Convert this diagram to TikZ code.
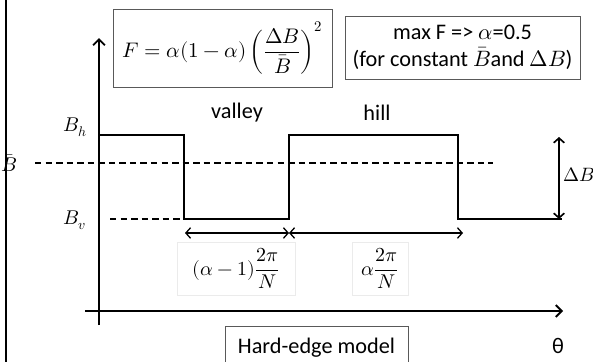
\documentclass[tikz,border=0pt]{standalone}
\usepackage{amsmath}
\usepackage{fontspec}
\usepackage{unicode-math}
\setmainfont{Carlito}
\setmathfont{Latin Modern Math}
\usetikzlibrary{arrows.meta, positioning}
\tikzset{
  axis/.style={-{Straight Barb[length=5pt,width=10pt,line width=1.6pt]}, line width=2pt},
  level/.style={line width=1.5pt},
  mean/.style={line width=1.5pt, dash pattern=on 5.5pt off 3.5pt},
  span/.style={{Straight Barb[length=4pt,width=9pt]}-{Straight Barb[length=4pt,width=9pt]}, line width=1.1pt},
  txtbox/.style={rectangle, draw=black!65, line width=0.8pt, inner sep=0pt, align=center},
  fracbox/.style={rectangle, draw=black!8, line width=0.6pt, inner sep=0pt},
  lbl/.style={font=\fontsize{19}{23}\selectfont},
  sym/.style={font=\fontsize{17}{20}\selectfont, inner sep=0pt},
}

\begin{document}
\begin{tikzpicture}[x=0.03cm, y=-0.03cm]
  \useasboundingbox (0,0) rectangle (593,361);
  \draw[line width=1.7pt] (6,-5) -- (6,366);

  % axes
  \coordinate (ax0) at (99,325);
  \coordinate (ay1) at (99,38);
  \coordinate (bx0) at (85,311);
  \coordinate (bx1) at (563,311);
  \draw[axis] (ax0) -- (ay1);
  \draw[axis] (bx0) -- (bx1);

  % hard-edge profile
  \coordinate (p0) at (99,135);
  \coordinate (p1) at (184,135);
  \coordinate (p2) at (184,219);
  \coordinate (p3) at (289,219);
  \coordinate (p4) at (289,135);
  \coordinate (p5) at (458,135);
  \coordinate (p6) at (458,219);
  \coordinate (p7) at (562,219);
  \draw[level] (p0) -- (p1) -- (p2) -- (p3) -- (p4) -- (p5) -- (p6) -- (p7);

  \coordinate (m0) at (35,163);
  \coordinate (m1) at (493,163);
  \coordinate (v0) at (110,219);
  \draw[mean] (m0) -- (m1);
  \draw[mean] (v0) -- (p2);

  \coordinate (d0) at (559,137);
  \coordinate (d1) at (559,219);
  \draw[span, line width=1.4pt] (d0) -- (d1);

  \coordinate (s0) at (185,233);
  \coordinate (s1) at (289,233);
  \coordinate (s2) at (463,233);
  \draw[span] (s0) -- (s1);
  \draw[span] (s1) -- (s2);

  % labels
  \node[sym] (bh) at (75,127) {$B_h$};
  \node[sym] (bv) at (75,220) {$B_v$};
  \node[sym] (bm) at (9,163) {$\bar{B}$};
  \node[sym, anchor=west] (db) at (563,175) {\fontsize{16.5}{20}\selectfont$\Delta B$};
  \node[lbl] (valley) at (237,113) {valley};
  \node[lbl] (hill) at (377,113) {hill};
  \node[fracbox, minimum width=118*0.03cm, minimum height=53*0.03cm, sym] (wv) at (236,268.5)
    {$(\alpha-1)\dfrac{2\pi}{N}$};
  \node[fracbox, minimum width=56*0.03cm, minimum height=53*0.03cm, sym] (wh) at (380,268.5)
    {$\alpha\dfrac{2\pi}{N}$};

  % boxes
  \node[txtbox, minimum width=219*0.03cm, minimum height=78*0.03cm,
        font=\fontsize{18}{22}\selectfont] (fbox) at (222.5,48)
    {$F=\alpha(1-\alpha)\left(\dfrac{\Delta B}{\bar{B}}\right)^{2}$};
  \node[txtbox, minimum width=235*0.03cm, minimum height=63*0.03cm, lbl] (maxbox) at (462.5,47.5)
    {max F => $\alpha$=0.5\\(for constant $\bar{B}$and $\Delta B$)};
  \node[txtbox, minimum width=183*0.03cm, minimum height=44*0.03cm, lbl] (model) at (316.5,348)
    {Hard-edge model};
  \node[lbl] (theta) at (558,346) {θ};
\end{tikzpicture}
\end{document}
